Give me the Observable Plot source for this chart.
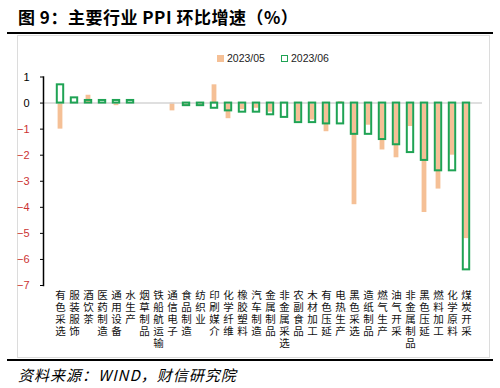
<!DOCTYPE html>
<html>
<head>
<meta charset="utf-8">
<script src="https://cdn.jsdelivr.net/npm/d3@7"></script>
<script src="https://cdn.jsdelivr.net/npm/@observablehq/plot@0.6"></script>
<style>
  body { margin: 0; background: #fff; }
  #wrap { position: relative; width: 500px; height: 388px; overflow: hidden; font-family: "Noto Sans CJK SC", sans-serif; }
  #title { position: absolute; left: 18px; top: 4px; font-size: 17px; font-weight: bold; color: #000; white-space: nowrap; letter-spacing: 0.5px; }
  .hr { position: absolute; left: 7px; width: 486px; height: 2px; background: #000; }
  #frame { position: absolute; left: 17px; top: 35px; width: 471px; height: 321px; border: 1px solid #dcdcdc; }
  #legend { position: absolute; left: 217px; top: 52px; font-family: "Liberation Sans", sans-serif; font-size: 10.5px; color: #222; white-space: nowrap; }
  #legend span.sw { display: inline-block; width: 7px; height: 7px; vertical-align: 0px; margin-right: 3px; box-sizing: border-box; }
  #chart { position: absolute; left: 0; top: 40px; }
  #source { position: absolute; left: 18px; top: 364px; font-size: 15px; font-style: italic; color: #000; white-space: nowrap; letter-spacing: 1px; font-family: "Noto Sans CJK SC", serif; }
</style>
</head>
<body>
<div id="wrap">
  <div id="title">图 9：主要行业 PPI 环比增速（%）</div>
  <div class="hr" style="top:32px"></div>
  <div id="frame"></div>
  <div id="legend"></div>
  <div id="chart"></div>
  <div class="hr" style="top:359px"></div>
  <div id="source">资料来源：WIND，财信研究院</div>
</div>
<script>
const categories = ["有色采选","服装服饰","酒饮茶","医药制造","通用设备","水生产","烟草制品","铁船航运输","通信电子","食品制造","纺织业","印刷媒介","化学纤维","橡胶塑料","汽车制造","金属制品","非金属采选","农副食品","木材加工","有色压延","电热生产","黑色采选","造纸制品","燃气生产","油气开采","非金属制品","黑色压延","燃料加工","化学原料","煤炭开采"];
const series = ["2023/05", "2023/06"];
const v202305 = [-1.0, 0, 0.3, 0, -0.1, 0, 0, 0, -0.3, -0.1, -0.1, 0.7, -0.6, -0.25, -0.2, -0.35, 0, -0.7, -0.65, -1.1, 0.05, -3.9, -0.85, -1.8, -2.1, -0.9, -4.2, -3.3, -2.0, -5.2];
const v202306 = [0.7, 0.2, 0.1, 0.1, 0.1, 0.1, 0, 0, 0, -0.1, -0.1, -0.2, -0.3, -0.35, -0.35, -0.45, -0.55, -0.75, -0.75, -0.8, -0.8, -1.2, -1.2, -1.4, -1.6, -1.9, -2.2, -2.6, -2.6, -6.4];
const posTicks = [1, 0];
const negTicks = [-1, -2, -3, -4, -5, -6, -7];

const colors = {"2023/05": "#f5c096", "2023/06": "#1fa354"};

const d05 = categories.map((c, i) => ({cat: c, v: v202305[i]}));
const d06 = categories.map((c, i) => ({cat: c, v: v202306[i]})).filter(d => d.v !== 0);

// one datum per character of each category label (labels are written vertically)
const chars = categories.flatMap(c => Array.from(c).map((ch, j) => ({cat: c, ch, j})));
const maxLen = d3.max(categories, c => Array.from(c).length);
const labelMarks = d3.range(maxLen).map(j =>
  Plot.text(chars.filter(d => d.j === j), {
    x: "cat", text: "ch", frameAnchor: "bottom", lineAnchor: "top",
    dy: 6 + j * 12, fontSize: 10.5, fill: "#111",
    fontFamily: "Liberation Sans, Noto Sans CJK SC, sans-serif"
  })
);

// legend
const lg = document.getElementById("legend");
lg.innerHTML =
  `<span class="sw" style="background:${colors["2023/05"]}"></span>${series[0]}` +
  `<span style="display:inline-block;width:16px"></span>` +
  `<span class="sw" style="border:1.6px solid ${colors["2023/06"]}"></span>${series[1]}`;

const chart = Plot.plot({
  width: 500,
  height: 315,
  marginLeft: 43,
  marginRight: 18,
  marginTop: 36.5,
  marginBottom: 70,
  x: {domain: categories, padding: 0, axis: null, label: null},
  y: {domain: [-7, 1], axis: null, label: null},
  style: {fontFamily: "Noto Sans CJK SC, sans-serif", background: "transparent", overflow: "visible"},
  marks: [
    Plot.barY(d05, {x: "cat", y: "v", fill: colors["2023/05"], insetLeft: 4.6, insetRight: 4.6}),
    Plot.ruleY([0], {stroke: "#d4d4d4", strokeWidth: 1.5}),
    Plot.barY(d06, {x: "cat", y: "v", fill: "none", stroke: colors["2023/06"], strokeWidth: 2, insetLeft: 3.8, insetRight: 3.8}),
    Plot.frame({anchor: "left", stroke: "#000", strokeWidth: 1.5}),
    Plot.axisY(posTicks, {label: null, tickSize: 3, tickPadding: 11, fontSize: 11, fill: "#000", stroke: "#000", fontFamily: "Liberation Sans, sans-serif"}),
    Plot.axisY(negTicks, {label: null, tickSize: 3, tickPadding: 11, fontSize: 11, fill: "#cc3333", stroke: "#000", fontFamily: "Liberation Sans, sans-serif"}),
    ...labelMarks
  ]
});
document.getElementById("chart").appendChild(chart);
</script>
</body>
</html>
